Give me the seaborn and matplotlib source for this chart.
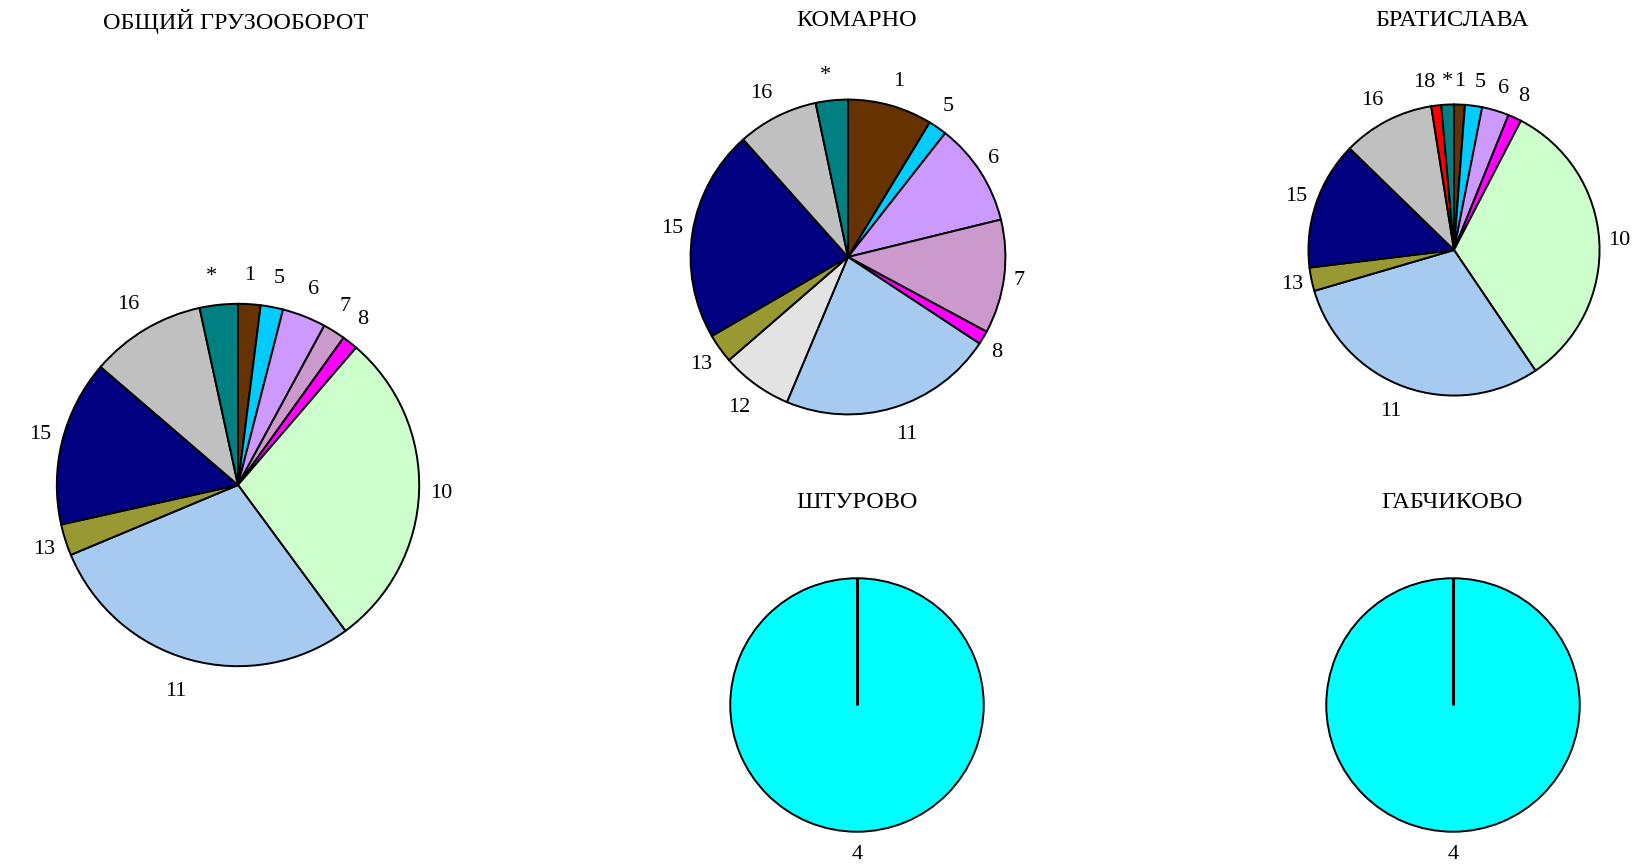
import numpy as np
import matplotlib
matplotlib.use("Agg")
import matplotlib.pyplot as plt
import seaborn as sns

W, H = 1642, 864

COLORS = {
    "1": "#663300",
    "4": "#00FFFF",
    "5": "#00CCFF",
    "6": "#CC99FF",
    "7": "#CC99CC",
    "8": "#FF00FF",
    "10": "#CCFFCC",
    "11": "#A6CAF0",
    "12": "#E3E3E3",
    "13": "#999933",
    "15": "#000080",
    "16": "#C0C0C0",
    "18": "#FF0000",
    "*": "#008080",
}

# shares in % (clockwise from 12 o'clock)
overall_labels = ["1", "5", "6", "7", "8", "10", "11", "13", "15", "16", "*"]
overall_values = [2.0, 2.0, 3.9, 2.0, 1.4, 28.6, 28.8, 2.8, 14.8, 10.3, 3.4]

komarno_labels = ["1", "5", "6", "7", "8", "11", "12", "13", "15", "16", "*"]
komarno_values = [8.7, 1.9, 10.6, 11.7, 1.4, 22.1, 7.3, 3.0, 21.8, 8.3, 3.3]

bratislava_labels = ["1", "5", "6", "8", "10", "11", "13", "15", "16", "18", "*"]
bratislava_values = [1.2, 1.9, 3.0, 1.5, 32.9, 29.9, 2.6, 14.2, 10.2, 1.1, 1.4]

shturovo_labels = ["4"]
shturovo_values = [100]

gabchikovo_labels = ["4"]
gabchikovo_values = [100]

sns.set_theme(style="white")
plt.rcParams["font.family"] = ["Liberation Serif", "DejaVu Serif"]
TITLE_FS = 17.5
LABEL_FS = 16

fig = plt.figure(figsize=(W / 100, H / 100), dpi=100)
fig.patch.set_facecolor("white")


def draw_pie(labels, values, title, cx, cy, r, tx, ty):
    ax = fig.add_axes([(cx - r) / W, (H - cy - r) / H, 2 * r / W, 2 * r / H])
    wedges, texts = ax.pie(
        values,
        labels=labels,
        colors=[COLORS[l] for l in labels],
        startangle=90,
        counterclock=False,
        radius=1,
        wedgeprops=dict(edgecolor="black", linewidth=1.4),
        textprops=dict(fontsize=LABEL_FS, color="black"),
    )
    # labels sit a little further out above/below than at the sides
    for w, t in zip(wedges, texts):
        phi = np.deg2rad((w.theta1 + w.theta2) / 2)
        x, y = np.cos(phi), np.sin(phi)
        t.set_position((1.06 * x, (1.16 if y > 0 else 1.18) * y))
        if abs(x) < 0.08:
            t.set_ha("center")
    if len(values) == 1:
        # full circle: keep the radial border line of the single slice
        a = np.deg2rad(wedges[0].theta1)
        ax.plot([0, np.cos(a)], [0, np.sin(a)], color="black", lw=2.2,
                solid_capstyle="butt")
    ax.set_xlim(-1.01, 1.01)
    ax.set_ylim(-1.01, 1.01)
    ax.set_axis_off()
    fig.text(tx / W, 1 - ty / H, title, ha="center", va="center",
             fontsize=TITLE_FS, color="black")


draw_pie(overall_labels, overall_values, "ОБЩИЙ ГРУЗООБОРОТ", 238, 485, 183, 236, 21)
draw_pie(komarno_labels, komarno_values, "КОМАРНО", 848, 257, 159, 857, 21)
draw_pie(bratislava_labels, bratislava_values, "БРАТИСЛАВА", 1454, 250, 147, 1452, 21)
draw_pie(shturovo_labels, shturovo_values, "ШТУРОВО", 857, 705, 128, 857, 502)
draw_pie(gabchikovo_labels, gabchikovo_values, "ГАБЧИКОВО", 1453, 705, 128, 1452, 502)

fig.savefig("out.png", dpi=100, facecolor="white")
plt.close(fig)
